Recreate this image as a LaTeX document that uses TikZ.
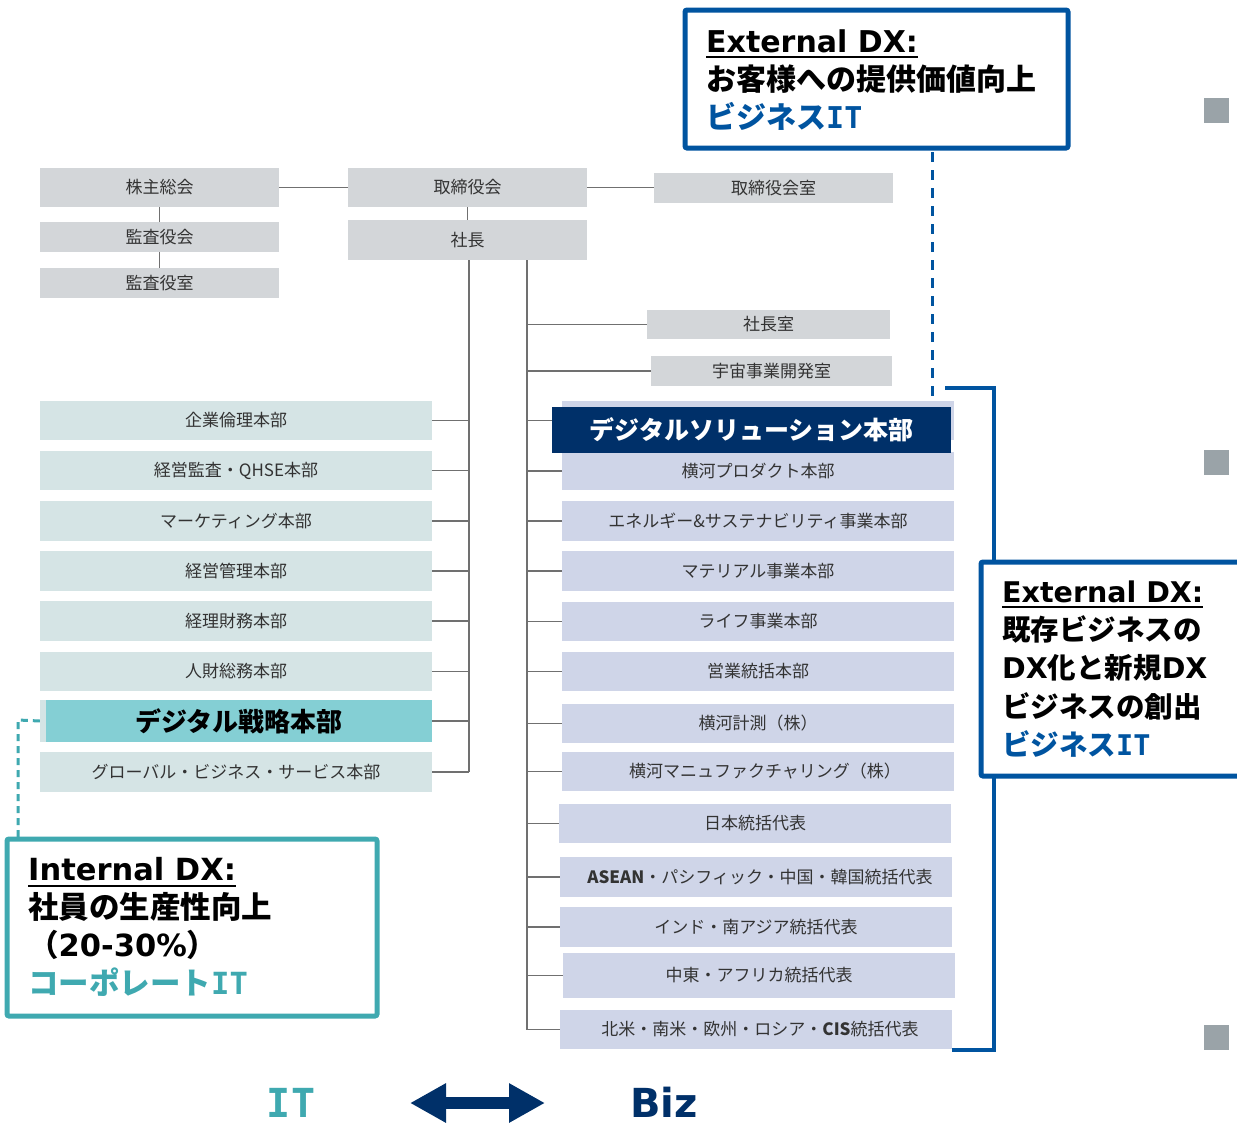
\documentclass[tikz,border=0pt]{standalone}
\usepackage{fontspec}
\setmainfont{Noto Sans CJK JP}
\newfontfamily\latf{DejaVu Sans}
\newfontfamily\monof{DejaVu Sans Mono}
\usetikzlibrary{arrows.meta}
\definecolor{grayfill}{HTML}{D3D6D9}
\definecolor{tealgray}{HTML}{D5E4E5}
\definecolor{lav}{HTML}{CFD5E8}
\definecolor{dnavy}{HTML}{003069}
\definecolor{tealbox}{HTML}{84CFD4}
\definecolor{itteal}{HTML}{3FA9B0}
\definecolor{bizblue}{HTML}{0054A0}
\definecolor{conngray}{HTML}{707070}
\definecolor{sqgray}{HTML}{9AA3A8}
\definecolor{labtext}{HTML}{333333}
\newcommand\myul[1]{\sbox0{#1}\rlap{\rule[-6pt]{\wd0}{2pt}}\usebox0}
\begin{document}
\begin{tikzpicture}[x=1pt,y=-1pt,
  sz/.style 2 args={minimum width=#1pt, minimum height=#2pt},
  gbox/.style={rectangle, fill=grayfill, inner sep=0pt, text=labtext, font=\fontsize{17}{20}\selectfont},
  tbox/.style={gbox, fill=tealgray},
  lbox/.style={gbox, fill=lav},
  conn/.style={draw=conngray, line width=1.2pt},
  bigtxt/.style={anchor=west, align=left, inner sep=0pt, text=black},
  frame/.style={rectangle, draw=#1, line width=5pt, fill=white, rounded corners=2pt, inner sep=0pt},
  sq/.style={rectangle, fill=sqgray, minimum size=25pt, inner sep=0pt}
]
\useasboundingbox (0,0) rectangle (1237,1125);
\fill[white] (0,0) rectangle (1237,1125);

% --- top management boxes
\node[gbox, sz={239}{39}] (kabu) at (159.5,187.5) {株主総会};
\node[gbox, sz={239}{30}] (kansakai) at (159.5,237) {監査役会};
\node[gbox, sz={239}{30}] (kansashitsu) at (159.5,283) {監査役室};
\node[gbox, sz={239}{39}] (torishimari) at (467.5,187.5) {取締役会};
\node[gbox, sz={239}{40}] (shacho) at (467.5,240) {社長};
\node[gbox, sz={239}{30}] (torishitsu) at (773.5,188) {取締役会室};
\node[gbox, sz={243}{29}] (shashitsu) at (768.5,324.5) {社長室};
\node[gbox, sz={241}{30}] (uchu) at (771.5,371) {宇宙事業開発室};

% --- left column
\node[tbox, sz={392}{39}] (kigyo) at (236,420.5) {企業倫理本部};
\node[tbox, sz={392}{39}] (kansa) at (236,470.5) {経営監査・QHSE本部};
\node[tbox, sz={392}{40}] (mkt) at (236,521) {マーケティング本部};
\node[tbox, sz={392}{40}] (kanri) at (236,571) {経営管理本部};
\node[tbox, sz={392}{40}] (keiri) at (236,621) {経理財務本部};
\node[tbox, sz={392}{39}] (jinzai) at (236,671.5) {人財総務本部};
\node[tbox, sz={392}{42}] (dsenbg) at (236,721) {};
\node[tbox, fill=tealbox, sz={386}{42}, text=black, font=\fontsize{26}{30}\selectfont\bfseries] (dsen) at (239,721) {デジタル戦略本部};
\node[tbox, sz={392}{40}] (gbs) at (236,772) {グローバル・ビジネス・サービス本部};

% --- right column
\node[lbox, sz={392}{39}] (dsolbg) at (758,420.5) {};
\node[lbox, sz={392}{38}] (prod) at (758,471) {横河プロダクト本部};
\node[lbox, fill=dnavy, sz={399}{46}, text=white, font=\fontsize{25}{30}\selectfont\bfseries] (dsol) at (751.5,429.5) {デジタルソリューション本部};
\node[lbox, sz={392}{40}] (energy) at (758,521) {エネルギー\&サステナビリティ事業本部};
\node[lbox, sz={392}{40}] (mat) at (758,571) {マテリアル事業本部};
\node[lbox, sz={392}{39}] (life) at (758,621.5) {ライフ事業本部};
\node[lbox, sz={392}{39}] (eigyo) at (758,671.5) {営業統括本部};
\node[lbox, sz={392}{39}] (keisoku) at (758,723.5) {横河計測（株）};
\node[lbox, sz={392}{39}] (manu) at (758,771.5) {\hspace*{14pt}横河マニュファクチャリング（株）};
\node[lbox, sz={392}{39}] (nihon) at (755,823.5) {日本統括代表};
\node[lbox, sz={392}{40}] (asean) at (756,877) {\hspace*{8pt}{\bfseries ASEAN}・パシフィック・中国・韓国統括代表};
\node[lbox, sz={392}{40}] (india) at (756,927) {インド・南アジア統括代表};
\node[lbox, sz={392}{45}] (chuto) at (759,975.5) {中東・アフリカ統括代表};
\node[lbox, sz={392}{39}] (hokubei) at (756,1029.5) {\hspace*{8pt}北米・南米・欧州・ロシア・{\bfseries CIS}統括代表};

% --- connectors
\coordinate (tLtop) at (469,260);
\coordinate (tLbot) at (469,772);
\coordinate (tRtop) at (527,260);
\coordinate (tRbot) at (527,1029.5);
\draw[conn] (kabu) -- (torishimari);
\draw[conn] (torishimari.east) -- (torishimari.east -| torishitsu.west);
\draw[conn] (kabu) -- (kansakai);
\draw[conn] (kansakai) -- (kansashitsu);
\draw[conn] (torishimari) -- (shacho);
\draw[conn] (tLtop) -- (tLbot);
\draw[conn] (tRtop) -- (tRbot);
\foreach \n in {kigyo,kansa,mkt,kanri,keiri,jinzai,dsen,gbs}
  \draw[conn] (\n.east) -- (\n.east -| tLtop);
\foreach \n in {shashitsu,uchu,prod,energy,mat,life,eigyo,keisoku,manu,nihon,asean,india,chuto,hokubei}
  \draw[conn] (\n.west) -- (\n.west -| tRtop);
\draw[conn] (dsolbg.west -| dsol.west) -- (dsolbg.west -| tRtop);

% --- blue bracket and dashed link
\coordinate (brA) at (945,388);
\coordinate (brB) at (994,388);
\coordinate (brC) at (994,1050);
\coordinate (brD) at (952,1050);
\draw[bizblue, line width=4.5pt] (brA) -- (brB) -- (brC) -- (brD);
\coordinate (dashTop) at (932,152);
\coordinate (dashBot) at (932,402);
\draw[bizblue, line width=3pt, dash pattern=on 10pt off 8pt] (dashTop) -- (dashBot);

% --- teal dashed link
\coordinate (tdA) at (18,720);
\coordinate (tdB) at (18,839);
\draw[itteal, line width=3pt, dash pattern=on 7pt off 5pt] (dsenbg.west) -- (tdA) -- (tdB);

% --- frames
\node[frame=bizblue, sz={383}{138}] (extTop) at (876.5,79) {};
\node[bigtxt, font=\fontsize{30}{38}\selectfont\bfseries] (extTopTxt) at (706,80)
  {\myul{\latf External DX:}\\お客様への提供価値向上\\{\color{bizblue}ビジネス\monof IT}};

\node[frame=bizblue, sz={259}{214}] (extR) at (1110.5,669) {};
\node[bigtxt, font=\fontsize{28.5}{38.25}\selectfont\bfseries] (extRTxt) at (1002,669)
  {\myul{\latf External DX:}\\既存ビジネスの\\{\latf DX}化と新規{\latf DX}\\ビジネスの創出\\{\color{bizblue}ビジネス\monof IT}};

\node[frame=itteal, sz={370}{177}] (intDX) at (192,927.5) {};
\node[bigtxt, font=\fontsize{30.5}{38}\selectfont\bfseries] (intTxt) at (28,927)
  {\myul{\latf Internal DX:}\\社員の生産性向上\\（{\latf 20-30\%}）\\{\color{itteal}コーポレート\monof IT}};

% --- gray squares
\node[sq] (sq1) at (1216.5,110.5) {};
\node[sq] (sq2) at (1216.5,462) {};
\node[sq] (sq3) at (1216.5,1037.5) {};

% --- bottom
\node[anchor=base, inner sep=0pt, text=itteal, font=\fontsize{40}{40}\selectfont\bfseries\monof] (itlab) at (291,1117) {IT};
\node[anchor=base, inner sep=0pt, text=dnavy, font=\fontsize{40}{40}\selectfont\bfseries\latf] (bizlab) at (664,1117) {Biz};
\coordinate (arL) at (410,1103);
\coordinate (arR) at (545,1103);
\draw[dnavy, line width=12pt, {Triangle[length=36pt,width=37pt]}-{Triangle[length=36pt,width=37pt]}] (arL) -- (arR);
\end{tikzpicture}
\end{document}
